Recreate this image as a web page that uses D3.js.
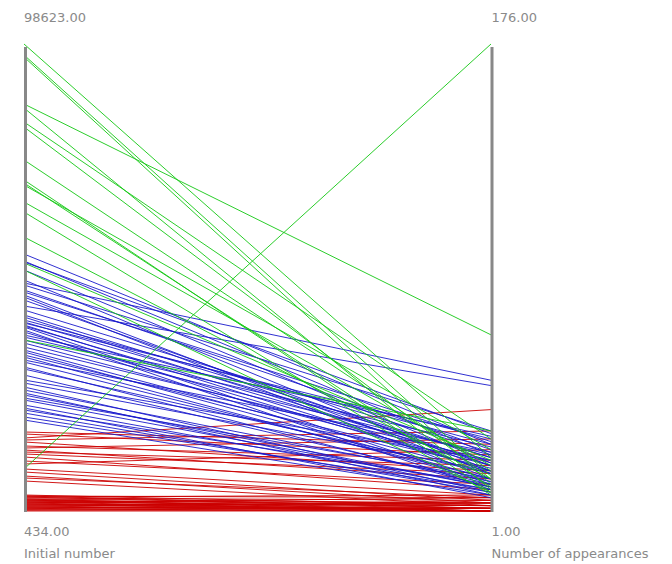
<!DOCTYPE html>
<html>
<head>
<meta charset="utf-8">
<script src="https://cdn.jsdelivr.net/npm/d3@7"></script>
<style>
  html, body { margin: 0; padding: 0; background: #fff; }
  svg { display: block; }
</style>
</head>
<body>
<svg id="chart" width="672" height="564"></svg>
<script>
// Two dimensions of the parallel-coordinates plot
const dimensions = ["Initial number", "Number of appearances"];
const domainInitial = [434, 98623];
const domainAppear = [1, 176];

// Group "high" (green)
const greenInitial = [98623, 96313, 95892, 86010, 85169, 82225, 81174, 74235, 70030, 69399, 68979, 65404, 63302, 58045, 52578, 51107, 36388, 9265];
const greenAppear  = [21, 14, 11, 67, 9, 28, 13, 16, 8, 10, 24, 18, 7, 13, 20, 8, 31, 176];

// Group "middle" (blue)
const blueInitial = [54471, 52999, 52789, 51107, 49004, 48373, 47953, 46901, 46481, 45850, 45430, 44799, 43537, 42696, 41645, 41224, 40594, 40173, 39963, 39542, 39332, 39122, 38491, 38071, 37440, 37019, 36388, 35758, 34917, 34286, 33865, 33235, 32814, 32183, 31763, 30711, 30291, 29029, 27978, 27347, 26506, 25875, 25245, 24824, 24193, 23773, 22722, 22091, 21670, 21039, 20198, 19568];
const blueAppear  = [26, 22, 30, 19, 16, 50, 31, 24, 27, 15, 13, 18, 48, 23, 21, 18, 26, 21, 28, 16, 19, 11, 9, 16, 29, 25, 22, 18, 20, 15, 13, 17, 12, 23, 13, 10, 15, 11, 20, 16, 8, 12, 7, 10, 13, 10, 9, 6, 11, 8, 9, 7];

// Group "low" (red)
const redInitial = [17045, 16624, 15783, 15362, 14942, 14101, 13680, 13260, 12839, 12419, 11788, 10947, 10316, 9265, 8634, 7793, 7373, 6742, 3798, 3588, 3378, 3167, 2957, 2747, 2537, 2326, 2116, 1906, 1696, 1485, 1275, 1065, 855, 644, 434, 3378, 2957, 2537, 2116, 1696, 1275, 855, 644, 3588, 2747, 2326, 1906, 1485, 1065];
const redAppear  = [26, 22, 39, 31, 16, 20, 28, 13, 18, 15, 9, 11, 24, 7, 5, 4, 6, 3, 3, 6, 2, 5, 4, 1, 2, 3, 6, 3, 2, 4, 1, 2, 1, 2, 1, 7, 1, 4, 1, 4, 2, 5, 1, 2, 3, 1, 1, 1, 2];

const groups = [
  { color: "#cc0000", initial: redInitial,   appear: redAppear },
  { color: "#1a1acc", initial: blueInitial,  appear: blueAppear },
  { color: "#14c814", initial: greenInitial, appear: greenAppear }
];

const svg = d3.select("#chart");

const x = d3.scalePoint().domain(dimensions).range([24, 491]);
const yScales = {
  "Initial number": d3.scaleLinear().domain(domainInitial).range([511, 44]),
  "Number of appearances": d3.scaleLinear().domain(domainAppear).range([511, 44])
};

const line = d3.line();

// Polylines, one per record
groups.forEach(g => {
  const rows = g.initial.map((v, i) => ({ "Initial number": v, "Number of appearances": g.appear[i] }));
  svg.append("g")
    .selectAll("path")
    .data(rows)
    .join("path")
    .attr("d", d => line(dimensions.map(k => [x(k), yScales[k](d[k])])))
    .attr("fill", "none")
    .attr("stroke", g.color)
    .attr("stroke-width", 1)
    .attr("stroke-opacity", 0.9);
});

// Axis bars and min/max labels
const fmt = d3.format(".2f");
const axisOffset = { "Initial number": 1.5, "Number of appearances": 1 };
const axes = svg.append("g");
dimensions.forEach(k => {
  const xx = x(k) + axisOffset[k];
  const s = yScales[k];
  axes.append("line")
    .attr("x1", xx).attr("x2", xx)
    .attr("y1", 47).attr("y2", 512)
    .attr("stroke", "#888")
    .attr("stroke-width", 3);
  const tx = x(k) - (k === dimensions[0] ? 0 : -0.5);
  axes.append("text")
    .attr("x", tx).attr("y", 22)
    .text(fmt(s.domain()[1]));
  axes.append("text")
    .attr("x", tx).attr("y", 536)
    .text(fmt(s.domain()[0]));
  axes.append("text")
    .attr("x", tx).attr("y", 558)
    .text(k);
});
axes.selectAll("text")
  .attr("fill", "#8a8a8a")
  .attr("font-family", "DejaVu Sans, sans-serif")
  .attr("font-size", 13);
</script>
</body>
</html>
